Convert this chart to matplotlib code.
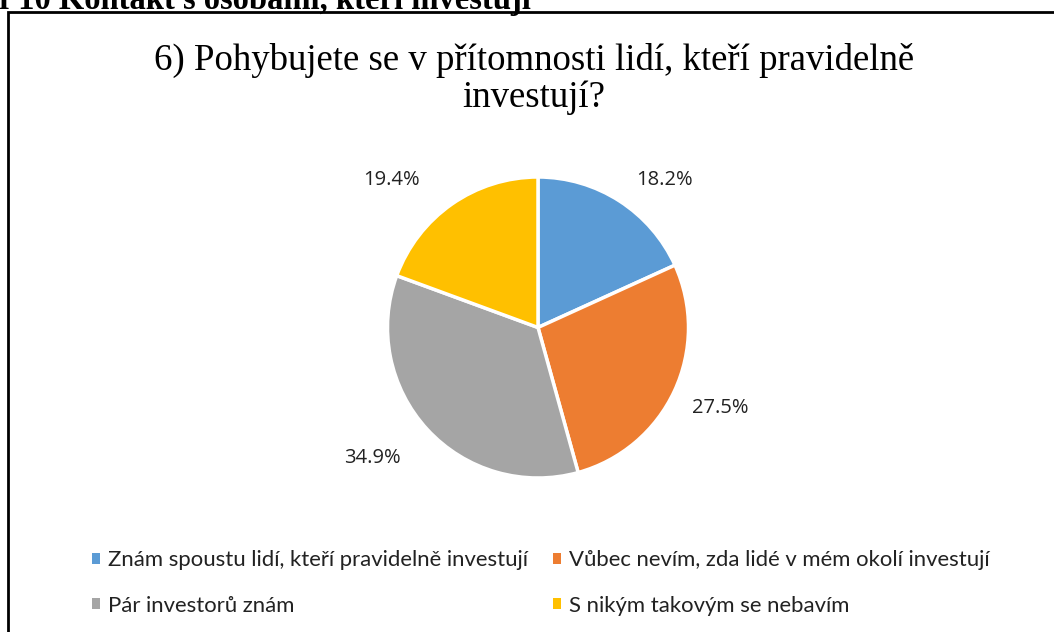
import matplotlib
matplotlib.use("Agg")
import matplotlib.pyplot as plt
from matplotlib.patches import Rectangle, Patch

categories = ["Znám spoustu lidí, kteří pravidelně investují",
              "Vůbec nevím, zda lidé v mém okolí investují",
              "Pár investorů znám",
              "S nikým takovým se nebavím"]
values = [18.2, 27.5, 34.9, 19.4]
colors = ["#5B9BD5", "#ED7D31", "#A5A5A5", "#FFC000"]
title = "6) Pohybujete se v přítomnosti lidí, kteří pravidelně\ninvestují?"
header = "Graf 10 Kontakt s osobami, kteří investují"

W, H = 1054, 632
fig = plt.figure(figsize=(W/100, H/100), dpi=100)

def fx(x): return x / W
def fy(y): return 1 - y / H

# header (cropped at top, as in the reference)
fig.text(fx(531), fy(9), header, ha="right", va="baseline",
         fontsize=23.5, fontweight="bold", family="Liberation Serif")

# frame
fig.patches.append(Rectangle((fx(8), -0.1), 1.2, fy(12) + 0.1, transform=fig.transFigure,
                             fill=False, edgecolor="black", linewidth=2))

fig.text(fx(534), fy(79), title, ha="center", va="center", fontsize=26.5,
         family="Liberation Serif", linespacing=1.12)

cx, cy, r = 538, 327.5, 150.5
ax = fig.add_axes([fx(cx - r), fy(cy + r), (2*r)/W, (2*r)/H])
wedges, _ = ax.pie(values, colors=colors, startangle=90, counterclock=False,
                   wedgeprops=dict(edgecolor="white", linewidth=2.5))
ax.set_xlim(-1, 1); ax.set_ylim(-1, 1)
ax.set_aspect("equal")

label_pos = [(664, 180), (720, 408), (372, 458), (391, 180)]
for v, (x, y) in zip(values, label_pos):
    fig.text(fx(x), fy(y), f"{v}%", ha="center", va="center", fontsize=14.5,
             family="Open Sans", color="#222222")

handles = [Patch(facecolor=c, edgecolor="none") for c in colors]
for idx, xpos in (([0, 2], 92), ([1, 3], 553)):
    leg = fig.legend([handles[i] for i in idx], [categories[i] for i in idx],
                     ncol=1, loc="center left",
                     bbox_to_anchor=(fx(xpos), fy(583)), frameon=False,
                     prop=dict(family="Lato", size=15.9),
                     handlelength=0.38, handleheight=0.38, handletextpad=0.33,
                     labelspacing=1.15, borderpad=0, borderaxespad=0)
    for t in leg.get_texts():
        t.set_color("#222222")

fig.savefig("out.png", dpi=100)
